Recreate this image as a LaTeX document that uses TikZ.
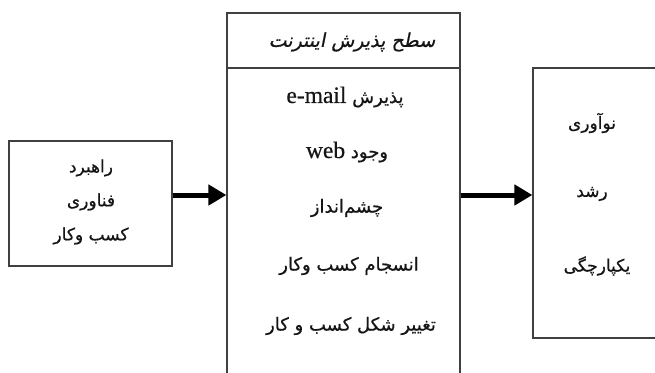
\documentclass[tikz,border=0pt]{standalone}
\usepackage{fontspec}
\setmainfont{Liberation Serif}
\newfontfamily\fa[Script=Arabic,FakeBold=0.6]{DejaVu Sans}
\newfontfamily\fai[Script=Arabic,FakeSlant=0.2,FakeBold=0.6]{DejaVu Sans}
\newfontfamily\latf[FakeBold=0.6]{Liberation Serif}
\TeXXeTstate=1
\usetikzlibrary{arrows.meta}
\definecolor{edge}{HTML}{404040}
\definecolor{ink}{HTML}{151515}
\tikzset{
  box/.style={draw=edge, line width=1.2pt, inner sep=0pt, fill=white},
  lbl/.style={text=ink, inner sep=0pt, font=\fa\fontsize{17}{19}\selectfont},
  biglbl/.style={text=ink, inner sep=0pt, font=\fa\fontsize{18}{20}\selectfont},
  arr/.style={line width=5pt, draw=black, -{Triangle[length=18pt,width=20pt]}},
}
\newcommand{\lat}[1]{{\latf\fontsize{23.5}{25}\selectfont\beginL #1\endL}}
\begin{document}
\begin{tikzpicture}[x=1pt,y=-1pt]
\useasboundingbox (0,0) rectangle (655,372);
\clip (0,0) rectangle (655,372);
\fill[white] (0,0) rectangle (655,372);
% boxes
\node[box, minimum width=163pt, minimum height=125pt] (left) at (90.5,203.5) {};
\node[box, minimum width=233pt, minimum height=372pt] (mid) at (343.5,199) {};
\node[box, minimum width=137pt, minimum height=270pt] (right) at (601.5,203) {};
\coordinate (hdr) at (0,68);
\draw[draw=edge, line width=1.2pt] (mid.west |- hdr) -- (mid.east |- hdr);
% arrows
\coordinate (ay) at (0,195);
\draw[arr] (left.east |- ay) -- (mid.west |- ay);
\draw[arr] (mid.east |- ay) -- (right.west |- ay);
% left texts
\node[lbl] (l1) at (91,168) {\beginR راهبرد\endR};
\node[lbl] (l2) at (91,202) {\beginR فناوری\endR};
\node[lbl] (l3) at (91,236) {\beginR کسب وکار\endR};
% middle texts
\node[lbl, font=\fai\fontsize{19}{21}\selectfont] (m0) at (352,42) {\beginR سطح پذیرش اینترنت\endR};
\node[biglbl] (m1) at (345,97) {\beginR پذیرش \lat{e-mail}\endR};
\node[biglbl] (m2) at (347,152) {\beginR وجود \lat{web}\endR};
\node[biglbl] (m3) at (347,208) {\beginR چشم‌انداز\endR};
\node[biglbl] (m4) at (349,266) {\beginR انسجام کسب وکار\endR};
\node[biglbl] (m5) at (351,326) {\beginR تغییر شکل کسب و کار\endR};
% right texts
\node[lbl] (r1) at (592,123) {\beginR نوآوری\endR};
\node[lbl] (r2) at (592,194) {\beginR رشد\endR};
\node[lbl] (r3) at (597,266) {\beginR یکپارچگی\endR};
\end{tikzpicture}
\end{document}
